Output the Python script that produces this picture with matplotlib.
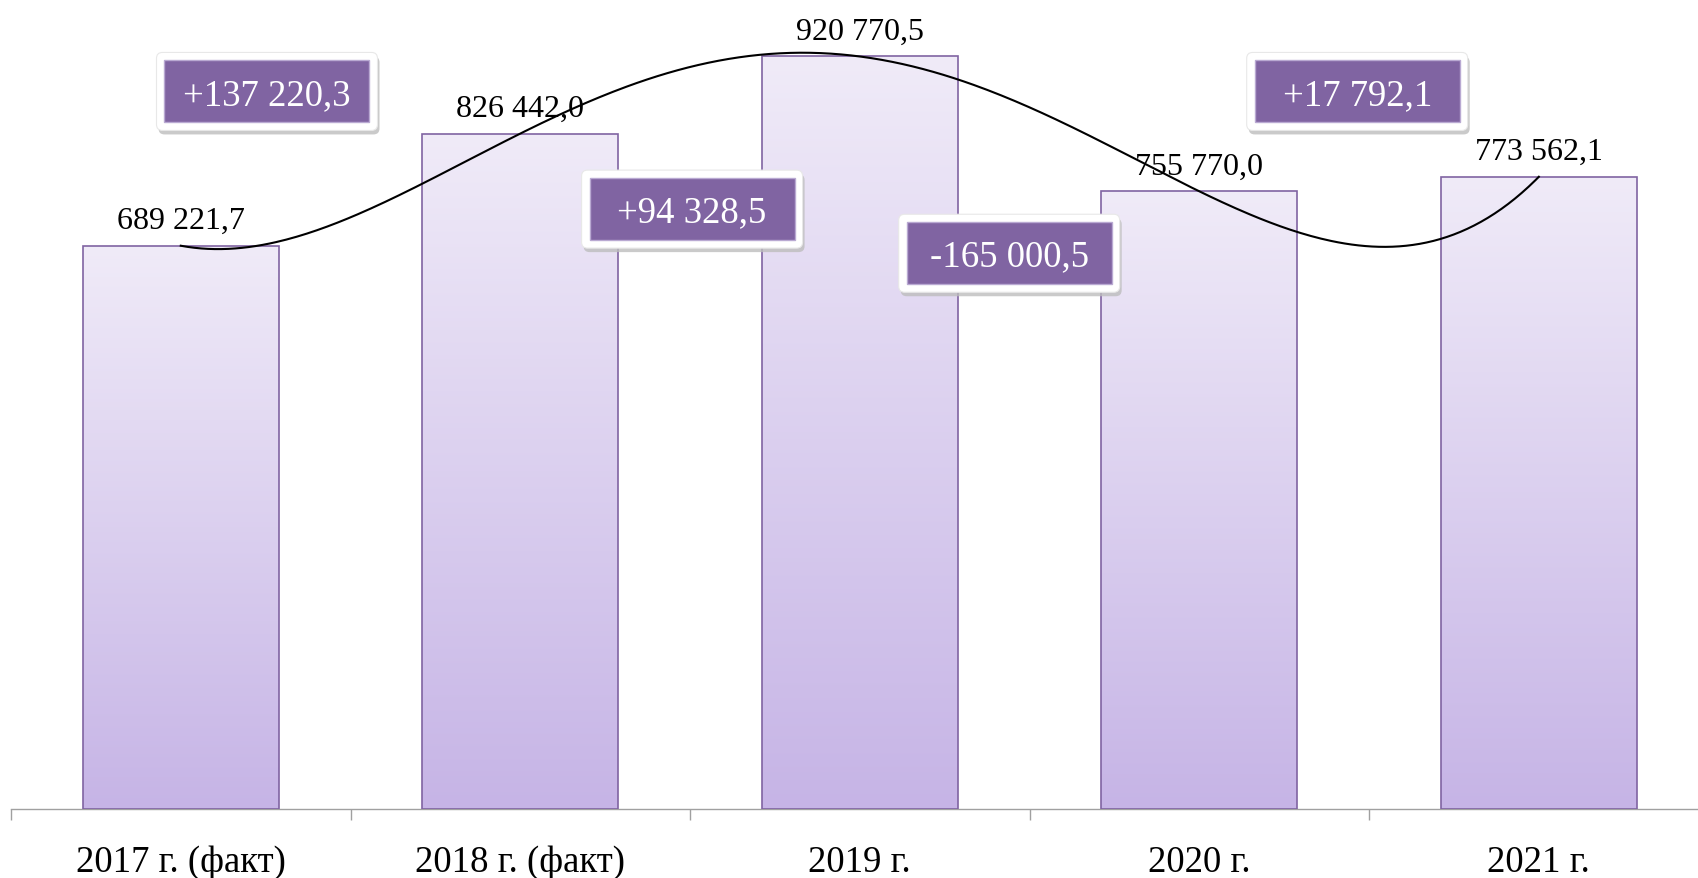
import numpy as np
import matplotlib
matplotlib.use("Agg")
import matplotlib.pyplot as plt
from matplotlib.patches import Rectangle, FancyBboxPatch
import matplotlib.transforms as mtransforms

plt.rcParams['font.family'] = ['Liberation Serif', 'DejaVu Serif']

# ---- data ----
categories = ["2017 г. (факт)", "2018 г. (факт)", "2019 г.", "2020 г.", "2021 г."]
values = [689221.7, 826442.0, 920770.5, 755770.0, 773562.1]
changes = [137220.3, 94328.5, -165000.5, 17792.1]

# ---- layout (annotation box anchors, data coords) ----
box_x = [0.254, 1.506, 2.44, 3.465]
box_y = [878000, 734000, 680000, 878000]

W, H = 1698, 878
fig = plt.figure(figsize=(W / 100 + 0.001, H / 100 + 0.001), dpi=100)
ax_left, ax_bottom, ax_w, ax_h = 11, 69, 1697.5, 809
ax = fig.add_axes([ax_left / W, ax_bottom / H, ax_w / W, ax_h / H])
ymax = 990000
ax.set_xlim(-0.5, len(categories) - 0.5)
ax.set_ylim(0, ymax)

def fmt(v, sign=False):
    s = f"{abs(v):,.1f}".replace(",", " ").replace(".", ",")
    if sign:
        return ("+" if v >= 0 else "-") + s
    return s

x = np.arange(len(categories))
bw = 0.577
top_c = np.array([0xF0, 0xEB, 0xF8]) / 255
bot_c = np.array([0xC6, 0xB4, 0xE6]) / 255
grad = np.linspace(0, 1, 256)[:, None]
img = top_c[None, None, :] * (1 - grad[:, :, None]) + bot_c[None, None, :] * grad[:, :, None]

bars = ax.bar(x, values, width=bw, facecolor='none', edgecolor='#8064A2',
              linewidth=1.2, zorder=3)
for b in bars:
    x0, w, h = b.get_x(), b.get_width(), b.get_height()
    im = ax.imshow(img, extent=(x0, x0 + w, 0, h), aspect='auto',
                   origin='upper', zorder=2, interpolation='bilinear')
    clip = Rectangle((x0, 0), w, h, transform=ax.transData)
    im.set_clip_path(clip)

ax.set_xlim(-0.5, len(categories) - 0.5)
ax.set_ylim(0, ymax)

# value labels
for xi, v in zip(x, values):
    ax.annotate(fmt(v), (xi, v), xytext=(0, 12), textcoords='offset points',
                ha='center', va='baseline', fontsize=23, color='black', zorder=6)

# polynomial trendline (order 4)
coef = np.polyfit(x, values, 4)
xs = np.linspace(0, len(categories) - 1, 400)
ax.plot(xs, np.polyval(coef, xs), color='black', linewidth=1.5, zorder=5)

# axes styling
for s in ['top', 'right', 'left']:
    ax.spines[s].set_visible(False)
ax.spines['bottom'].set_color('#A0A0A0')
ax.spines['bottom'].set_linewidth(1.0)
ax.set_yticks([])
ax.set_xticks(np.arange(-0.5, len(categories), 1.0))
ax.set_xticklabels([])
ax.tick_params(axis='x', length=8, width=1.0, color='#A0A0A0', direction='out')

trans = mtransforms.blended_transform_factory(ax.transData, ax.transAxes)
for xi, c in zip(x, categories):
    ax.text(xi, -63 / ax_h, c, transform=trans, ha='center', va='baseline',
            fontsize=26.5, color='black')

# change boxes
fig.canvas.draw()
bw_px, bh_px = 205, 62
pad = 8
for bx, by, ch in zip(box_x, box_y, changes):
    cx, cy = ax.transData.transform((bx, by))
    sh = FancyBboxPatch((cx - bw_px / 2 - pad + 2, cy - bh_px / 2 - pad - 4),
                        bw_px + 2 * pad, bh_px + 2 * pad,
                        boxstyle="round,pad=0,rounding_size=6",
                        transform=None, facecolor='#BDBDBD', edgecolor='none',
                        alpha=0.8, zorder=7)
    fig.patches.append(sh)
    outer = FancyBboxPatch((cx - bw_px / 2 - pad, cy - bh_px / 2 - pad),
                           bw_px + 2 * pad, bh_px + 2 * pad,
                           boxstyle="round,pad=0,rounding_size=6",
                           transform=None, facecolor='white', edgecolor='#E8E8E8',
                           linewidth=0.8, zorder=8)
    fig.patches.append(outer)
    inner = Rectangle((cx - bw_px / 2, cy - bh_px / 2), bw_px, bh_px,
                      transform=None, facecolor='#8064A2', edgecolor='#B9A9D2',
                      linewidth=1.0, zorder=9)
    fig.patches.append(inner)
    fig.text(cx / W, cy / H, fmt(ch, sign=True), ha='center', va='center_baseline',
             fontsize=26.5, color='white', zorder=10)

fig.savefig("out.png", dpi=100)
